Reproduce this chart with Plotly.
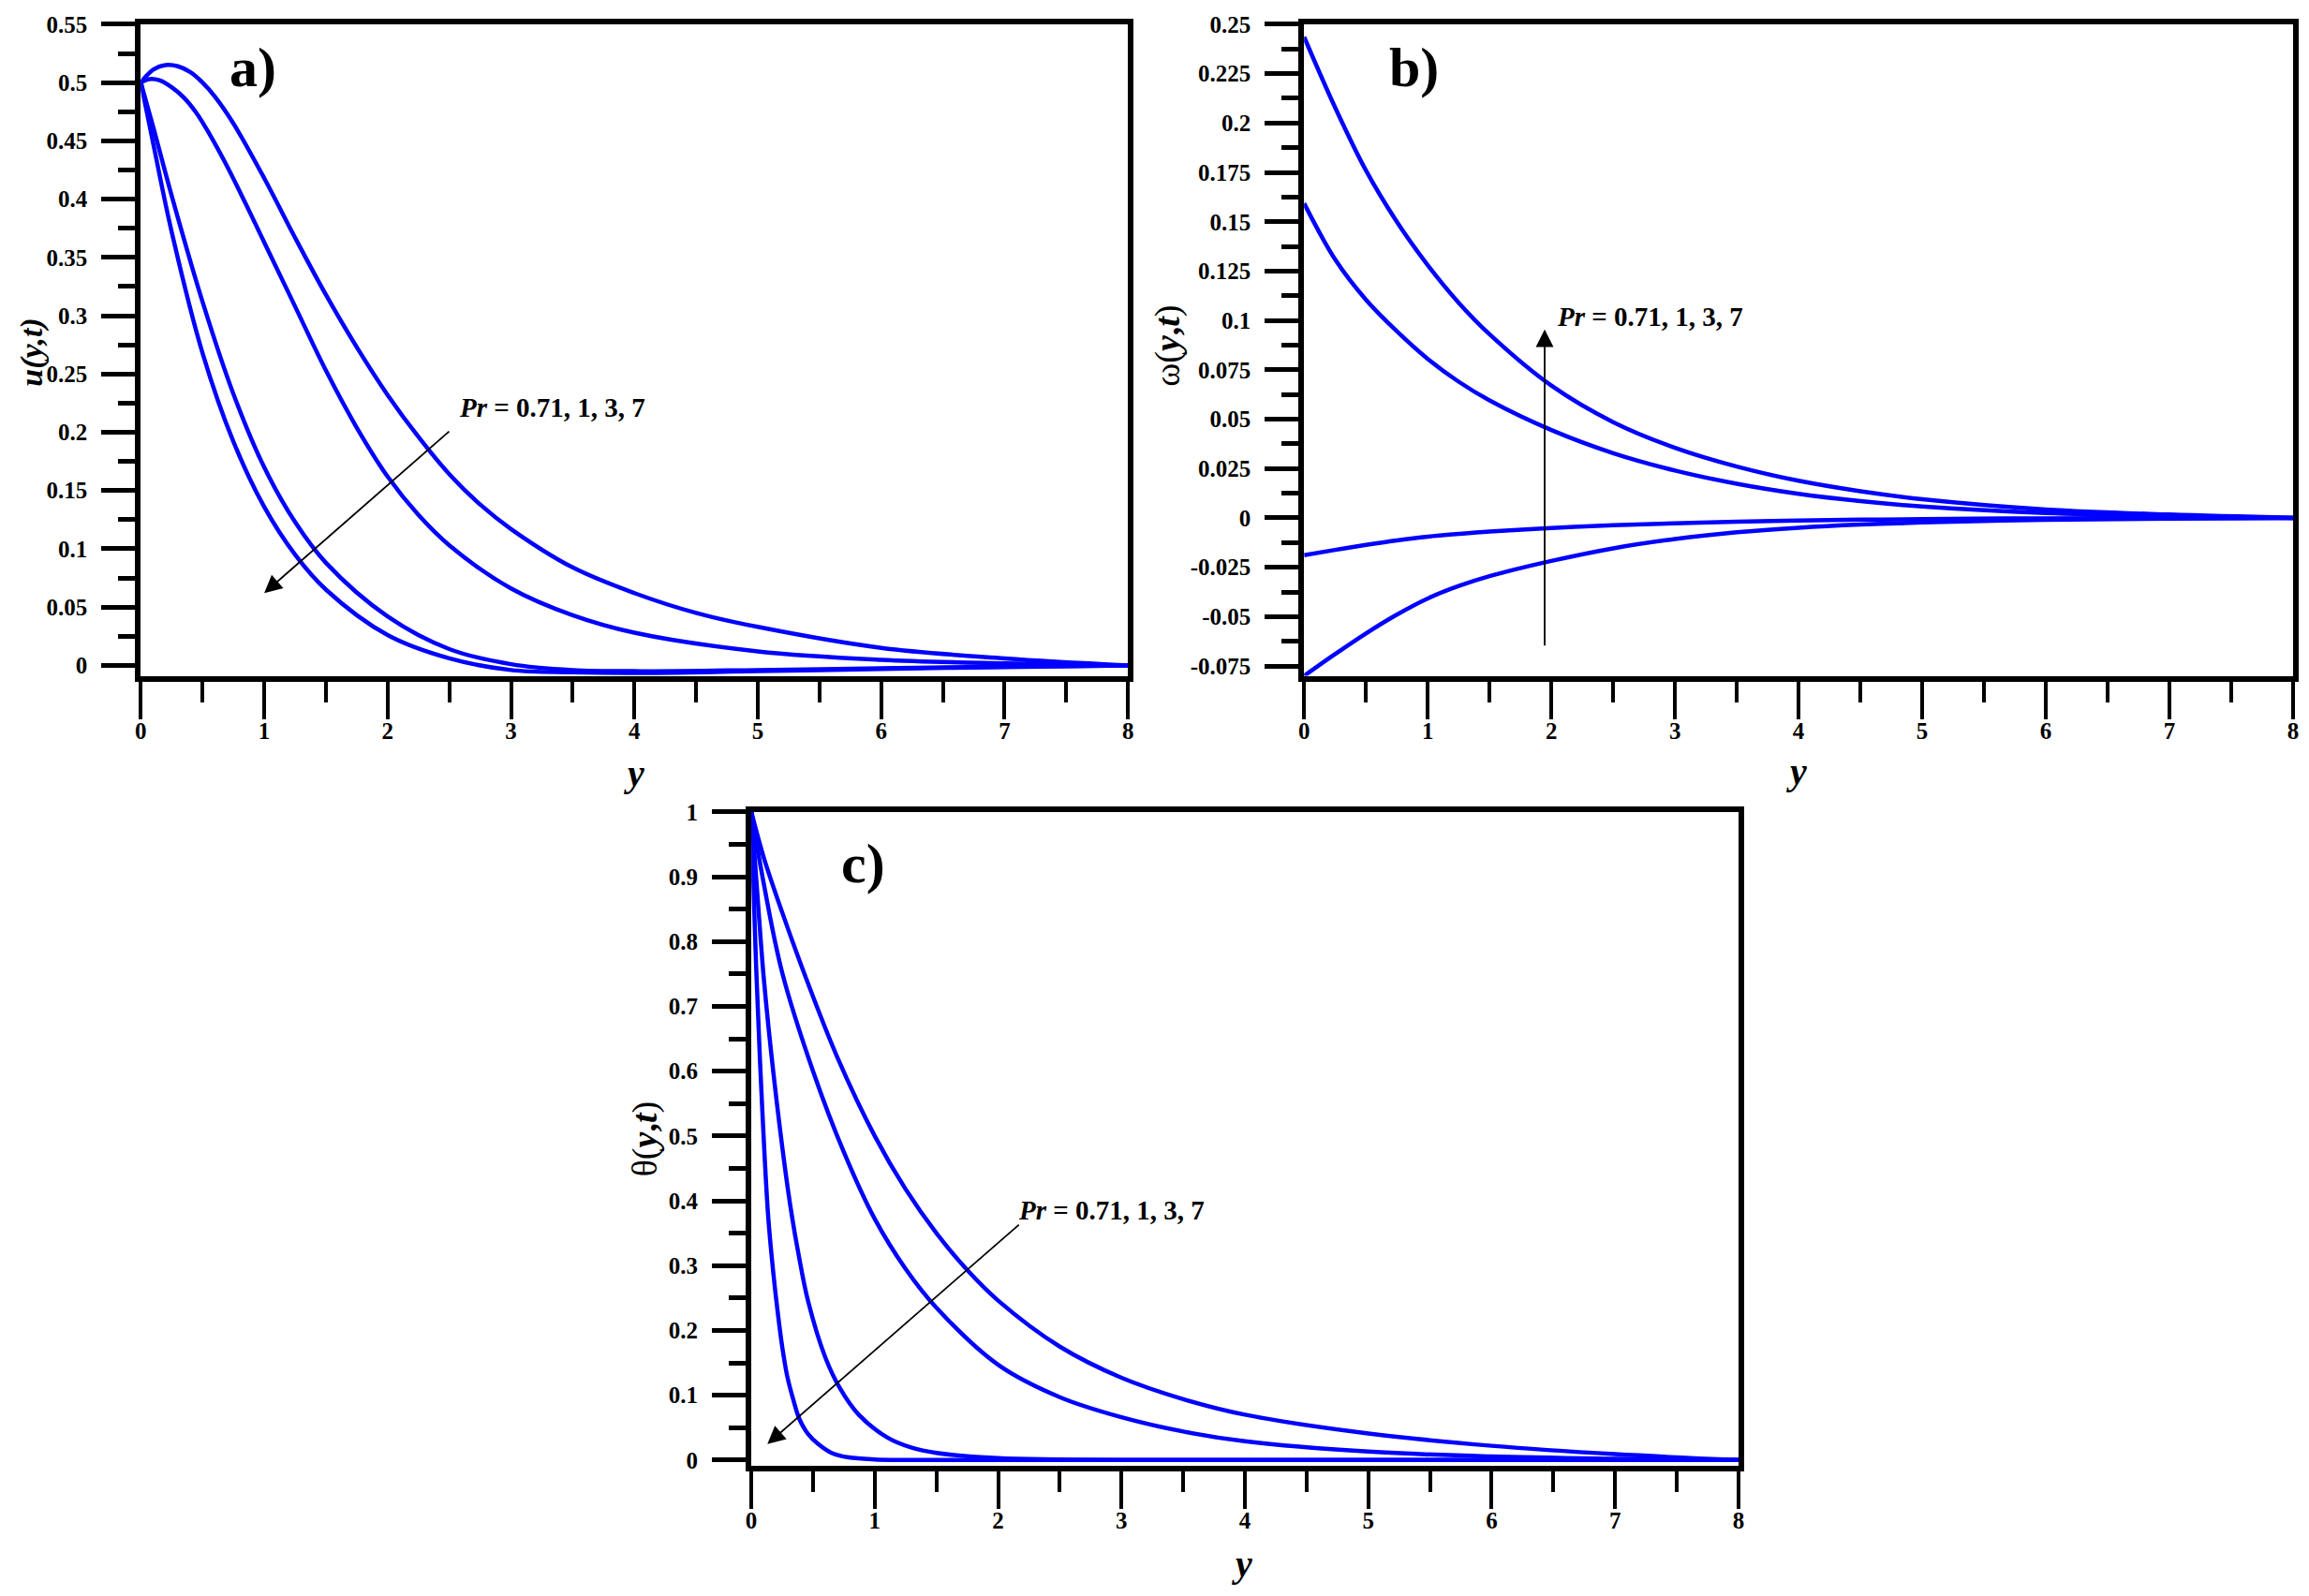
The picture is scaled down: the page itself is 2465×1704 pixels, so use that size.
import plotly.graph_objects as go

# ---------------- data ----------------
# a) u(y,t) for Pr = 0.71, 1, 3, 7
u_y_071 = [0, 0.1, 0.2, 0.3, 0.4, 0.5, 0.6, 0.75, 1, 1.25, 1.5, 1.75, 2, 2.25, 2.5, 2.75, 3, 3.5,
           4, 4.5, 5, 6, 7, 8]
u_pr_071 = [0.5, 0.511, 0.515, 0.514, 0.509, 0.5, 0.488, 0.465, 0.418, 0.367, 0.318, 0.273, 0.232,
            0.196, 0.164, 0.138, 0.117, 0.084, 0.062, 0.045, 0.033, 0.015, 0.006, 0.0]
u_y_1 = [0, 0.07, 0.15, 0.25, 0.35, 0.45, 0.55, 0.7, 0.85, 1, 1.25, 1.5, 1.75, 2, 2.25, 2.5, 3,
         3.5, 4, 5, 6, 7, 8]
u_pr_1 = [0.5, 0.503, 0.502, 0.496, 0.487, 0.474, 0.457, 0.428, 0.396, 0.363, 0.308, 0.253, 0.204,
          0.162, 0.129, 0.103, 0.066, 0.043, 0.028, 0.012, 0.0048, 0.0017, 0.0]
u_y_37 = [0, 0.1, 0.25, 0.5, 0.75, 1, 1.25, 1.5, 2, 2.5, 3, 3.5, 4, 5, 6, 7, 8]
u_pr_3 = [0.5, 0.462, 0.403, 0.312, 0.233, 0.17, 0.123, 0.088, 0.042, 0.014, 0.001, -0.004,
          -0.005, -0.004, -0.0025, -0.001, 0.0]
u_pr_7 = [0.5, 0.448, 0.372, 0.268, 0.192, 0.136, 0.095, 0.065, 0.026, 0.006, -0.004, -0.006,
          -0.0065, -0.005, -0.003, -0.0015, 0.0]

# b) omega(y,t)
w_y = [0, 0.25, 0.5, 0.75, 1, 1.25, 1.5, 2, 2.5, 3, 3.5, 4, 4.5, 5, 6, 7, 8]
w_pr_7 = [0.2436, 0.208, 0.176, 0.15, 0.128, 0.109, 0.093, 0.067, 0.0485, 0.0355, 0.026, 0.0188,
          0.0135, 0.0095, 0.0043, 0.0017, 0.0]
w_pr_3 = [0.1593, 0.131, 0.1105, 0.0945, 0.0805, 0.069, 0.0595, 0.0445, 0.0328, 0.024, 0.0173,
          0.0122, 0.0085, 0.0058, 0.0025, 0.0009, 0.0]
w_pr_1 = [-0.0189, -0.0162, -0.0137, -0.0114, -0.0095, -0.0081, -0.0069, -0.0051, -0.0037,
          -0.0027, -0.0019, -0.0013, -0.0009, -0.0006, -0.0002, -0.0001, 0.0]
w_pr_071 = [-0.08, -0.069, -0.0585, -0.049, -0.0408, -0.0345, -0.0295, -0.0218, -0.0154, -0.0107,
            -0.0073, -0.005, -0.0034, -0.0023, -0.001, -0.0004, 0.0]

# c) theta(y,t)
th_y_071 = [0, 0.1, 0.25, 0.45, 0.7, 1, 1.25, 1.5, 1.75, 2, 2.5, 3, 3.5, 4, 5, 6, 7, 8]
th_pr_071 = [1.0, 0.93, 0.845, 0.74, 0.62, 0.5, 0.418, 0.35, 0.293, 0.246, 0.175, 0.127, 0.094,
             0.07, 0.041, 0.022, 0.009, 0.0]
th_y_1 = [0, 0.1, 0.25, 0.5, 0.75, 1, 1.25, 1.5, 2, 2.5, 3, 3.5, 4, 5, 6, 7, 8]
th_pr_1 = [1.0, 0.89, 0.752, 0.6, 0.475, 0.372, 0.295, 0.235, 0.147, 0.097, 0.066, 0.044, 0.029,
           0.013, 0.0055, 0.002, 0.0]
th_y_3 = [0, 0.05, 0.1, 0.18, 0.28, 0.33, 0.38, 0.46, 0.6, 0.72, 0.87, 1.1, 1.3, 1.5, 2, 2.5, 3, 8]
th_pr_3 = [1.0, 0.87, 0.745, 0.595, 0.44, 0.375, 0.32, 0.245, 0.158, 0.11, 0.07, 0.035, 0.019,
           0.011, 0.003, 0.001, 0.0, 0.0]
th_y_7 = [0, 0.02, 0.04, 0.08, 0.136, 0.18, 0.21, 0.25, 0.29, 0.34, 0.39, 0.46, 0.54, 0.65, 0.79,
          1.0, 1.5, 8]
th_pr_7 = [1.0, 0.87, 0.755, 0.575, 0.377, 0.285, 0.234, 0.175, 0.13, 0.093, 0.063, 0.04, 0.025,
           0.011, 0.004, 0.001, 0.0, 0.0]

# tick labels
x_ticks = [0, 1, 2, 3, 4, 5, 6, 7, 8]
x_tick_text = ["0", "1", "2", "3", "4", "5", "6", "7", "8"]
u_ticks = [0, 0.05, 0.1, 0.15, 0.2, 0.25, 0.3, 0.35, 0.4, 0.45, 0.5, 0.55]
u_tick_text = ["0", "0.05", "0.1", "0.15", "0.2", "0.25", "0.3", "0.35", "0.4", "0.45", "0.5", "0.55"]
w_ticks = [-0.075, -0.05, -0.025, 0, 0.025, 0.05, 0.075, 0.1, 0.125, 0.15, 0.175, 0.2, 0.225, 0.25]
w_tick_text = ["-0.075", "-0.05", "-0.025", "0", "0.025", "0.05", "0.075", "0.1", "0.125", "0.15",
               "0.175", "0.2", "0.225", "0.25"]
th_ticks = [0, 0.1, 0.2, 0.3, 0.4, 0.5, 0.6, 0.7, 0.8, 0.9, 1]
th_tick_text = ["0", "0.1", "0.2", "0.3", "0.4", "0.5", "0.6", "0.7", "0.8", "0.9", "1"]

PR_LABEL = "<i>Pr</i> = 0.71, 1, 3, 7"

# ---------------- page geometry ----------------
PAGE_W, PAGE_H = 2465, 1704
BODY = 8  # default <body> margin of the html page
FIG_W, FIG_H = PAGE_W - 2 * BODY, PAGE_H - 2 * BODY


def fx(p):
    return (p - BODY) / FIG_W


def fy(p):
    return 1 - (p - BODY) / FIG_H


SERIF = "Liberation Serif"
BLUE = "#0000FF"

fig = go.Figure()

panels = [
    ("x", "y", [(u_y_071, u_pr_071), (u_y_1, u_pr_1), (u_y_37, u_pr_3), (u_y_37, u_pr_7)]),
    ("x2", "y2", [(w_y, w_pr_7), (w_y, w_pr_3), (w_y, w_pr_1), (w_y, w_pr_071)]),
    ("x3", "y3", [(th_y_071, th_pr_071), (th_y_1, th_pr_1), (th_y_3, th_pr_3), (th_y_7, th_pr_7)]),
]
for xa, ya, curves in panels:
    for xs, ys in curves:
        fig.add_trace(go.Scatter(
            x=xs, y=ys, xaxis=xa, yaxis=ya, mode="lines",
            line=dict(color=BLUE, width=4.5, shape="spline", smoothing=1.0),
            showlegend=False, hoverinfo="skip",
        ))


def x_axis(left, right, anchor):
    return dict(
        domain=[fx(left), fx(right)], anchor=anchor, range=[0, 8],
        tickmode="array", tickvals=x_ticks, ticktext=x_tick_text,
        ticks="outside", ticklen=40, tickwidth=4, tickcolor="black",
        minor=dict(tickmode="linear", tick0=0, dtick=0.5, ticks="outside",
                   ticklen=22, tickwidth=4, tickcolor="black"),
        showline=True, linewidth=6, linecolor="black", mirror=True,
        showgrid=False, zeroline=False, ticklabelstandoff=-9,
        tickfont=dict(family=SERIF, size=25, color="black", weight="bold"),
    )


def y_axis(top, bottom, anchor, rng, vals, text, minor_step):
    return dict(
        domain=[fy(bottom), fy(top)], anchor=anchor, range=rng,
        tickmode="array", tickvals=vals, ticktext=text,
        ticks="outside", ticklen=36, tickwidth=5, tickcolor="black",
        minor=dict(tickmode="linear", tick0=0, dtick=minor_step, ticks="outside",
                   ticklen=18, tickwidth=5, tickcolor="black"),
        showline=True, linewidth=6, linecolor="black", mirror=True,
        showgrid=False, zeroline=False, ticklabelstandoff=10,
        tickfont=dict(family=SERIF, size=25, color="black", weight="bold"),
    )


fig.update_layout(
    width=FIG_W, height=FIG_H,
    margin=dict(l=0, r=0, t=0, b=0),
    plot_bgcolor="white", paper_bgcolor="white",
    xaxis=x_axis(145, 1204, "y"),
    yaxis=y_axis(13, 717, "x", [-0.009, 0.55], u_ticks, u_tick_text, 0.025),
    xaxis2=x_axis(1393, 2454, "y2"),
    yaxis2=y_axis(13, 717, "x2", [-0.08, 0.25], w_ticks, w_tick_text, 0.0125),
    xaxis3=x_axis(800, 1859, "y3"),
    yaxis3=y_axis(864, 1571, "x3", [-0.0096, 1.0], th_ticks, th_tick_text, 0.05),
)

# axis titles and panel letters (page pixel positions)
texts = [
    (28, 367, "<b><i>u(y,t)</i></b>", -90, 34),
    (1247, 360, "ω(<b><i>y</i>,<i>t</i></b>)", -90, 38),
    (686, 1218, "θ(<b><i>y</i>,<i>t</i></b>)", -90, 38),
    (674, 822, "<b><i>y</i></b>", 0, 40),
    (1921, 820, "<b><i>y</i></b>", 0, 40),
    (1326, 1676, "<b><i>y</i></b>", 0, 40),
]
for px, py, txt, ang, size in texts:
    fig.add_annotation(
        x=fx(px), y=fy(py), xref="paper", yref="paper", text=txt, textangle=ang,
        showarrow=False, xanchor="center", yanchor="middle",
        font=dict(family=SERIF, size=size, color="black"),
    )

for px, py, txt in [(265, 60, "a)"), (1511, 60, "b)"), (920, 920, "c)")]:
    fig.add_annotation(
        x=fx(px), y=fy(py), xref="paper", yref="paper", text=f"<b>{txt}</b>",
        showarrow=False, xanchor="center", yanchor="middle",
        font=dict(family=SERIF, size=60, color="black"),
    )

# Pr labels and arrows (data coordinates)
labels = [("x", "y", 2.56, 0.221), ("x2", "y2", 2.03, 0.102), ("x3", "y3", 2.15, 0.386)]
for xr, yr, lx, ly in labels:
    fig.add_annotation(
        x=lx, y=ly, xref=xr, yref=yr, text=f"<b>{PR_LABEL}</b>",
        showarrow=False, xanchor="left", yanchor="middle",
        font=dict(family=SERIF, size=29, color="black"),
    )

arrows = [
    ("x", "y", 2.51, 0.2018, 1.0, 0.062),
    ("x2", "y2", 1.946, -0.0654, 1.946, 0.0955),
    ("x3", "y3", 2.18, 0.365, 0.13, 0.0247),
]
for xr, yr, tx, ty, hx, hy in arrows:
    fig.add_annotation(
        x=hx, y=hy, ax=tx, ay=ty, xref=xr, yref=yr, axref=xr, ayref=yr,
        text="", showarrow=True, arrowhead=2, arrowsize=2.1, arrowwidth=1.8,
        arrowcolor="black",
    )

fig.write_html("out.html")
